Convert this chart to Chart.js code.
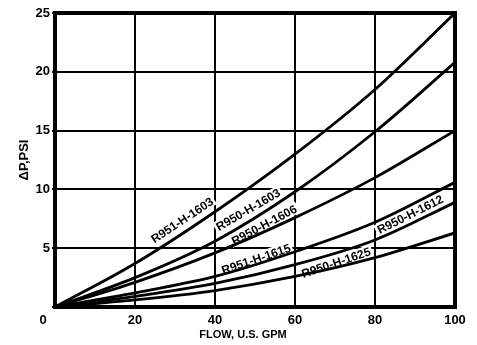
<!DOCTYPE html>
<html>
<head>
<meta charset="utf-8">
<script src="https://cdn.jsdelivr.net/npm/chart.js@4.4.0/dist/chart.umd.min.js"></script>
<style>
  html, body { margin: 0; padding: 0; background: #fff; }
  #wrap { width: 477px; height: 345px; position: relative; }
</style>
</head>
<body>
<div id="wrap"><canvas id="chart"></canvas></div>
<script>
// flow (U.S. GPM) vs pressure drop (PSI)
const flow = [0, 20, 40, 60, 80, 100];
const r951h1603 = [0, 3.7, 8.1, 13.0, 18.5, 25.0];
const r950h1603 = [0, 2.5, 5.6, 9.8, 14.9, 20.8];
const r950h1606 = [0, 2.1, 4.6, 7.6, 11.0, 15.0];
const r951h1615 = [0, 1.2, 2.6, 4.7, 7.2, 10.6];
const r950h1612 = [0, 0.9, 2.0, 3.6, 5.7, 8.9];
const r950h1625 = [0, 0.6, 1.4, 2.6, 4.2, 6.3];
const seriesNames = ['R951-H-1603', 'R950-H-1603', 'R950-H-1606', 'R951-H-1615', 'R950-H-1612', 'R950-H-1625'];
const seriesValues = [r951h1603, r950h1603, r950h1606, r951h1615, r950h1612, r950h1625];

// where the curve names sit (data units) and their slant
const labelX = [31.75, 48.25, 52.25, 50.25, 88.75, 70.25];
const labelY = [7.4, 8.3, 7.0, 4.1, 7.9, 3.8];
const labelAngle = [-33.7, -30, -28, -18.7, -26.6, -18.7];

const FONT = '"Liberation Sans", Arial, Helvetica, sans-serif';

const curveLabels = {
  id: 'curveLabels',
  beforeDatasetsDraw(chart) {
    const { ctx, scales: { x, y } } = chart;
    ctx.save();
    ctx.font = 'bold 12px ' + FONT;
    ctx.textAlign = 'center';
    ctx.textBaseline = 'middle';
    seriesNames.forEach((name, i) => {
      const px = x.getPixelForValue(labelX[i]);
      const py = y.getPixelForValue(labelY[i]);
      const w = ctx.measureText(name).width;
      ctx.save();
      ctx.translate(px, py);
      ctx.rotate(labelAngle[i] * Math.PI / 180);
      ctx.fillStyle = '#fff';
      ctx.fillRect(-w / 2 - 2, -6, w + 4, 12);
      ctx.fillStyle = '#000';
      ctx.fillText(name, 0, 1);
      ctx.restore();
    });
    ctx.restore();
  },
  afterDraw(chart) {
    const { ctx, chartArea: a } = chart;
    ctx.save();
    // heavy frame round the plot
    ctx.strokeStyle = '#000';
    ctx.lineWidth = 4;
    ctx.strokeRect(a.left, a.top, a.right - a.left, a.bottom - a.top);
    // shared origin label and x title
    ctx.fillStyle = '#000';
    ctx.textAlign = 'center';
    ctx.textBaseline = 'middle';
    ctx.font = 'bold 13px ' + FONT;
    ctx.fillText('0', a.left - 12, a.bottom + 13);
    ctx.font = 'bold 11px ' + FONT;
    ctx.fillText('FLOW, U.S. GPM', 243, 335);
    ctx.restore();
  }
};

const datasets = seriesValues.map((vals, i) => ({
  label: seriesNames[i],
  data: flow.map((f, j) => ({ x: f, y: vals[j] })),
  borderColor: '#000',
  borderWidth: 2.8,
  pointRadius: 0,
  fill: false,
  cubicInterpolationMode: 'monotone'
}));

new Chart(document.getElementById('chart'), {
  type: 'line',
  data: { datasets },
  options: {
    responsive: true,
    maintainAspectRatio: false,
    animation: false,
    layout: { padding: { top: 13, right: 22, left: 0, bottom: 0 } },
    plugins: { legend: { display: false }, tooltip: { enabled: false } },
    scales: {
      x: {
        type: 'linear',
        min: 0, max: 100,
        afterFit(scale) { scale.height = 38; },
        grid: { color: '#000', lineWidth: 2, drawTicks: false },
        border: { display: false },
        ticks: {
          stepSize: 20,
          padding: 6,
          color: '#000',
          font: { family: FONT, size: 13, weight: 'bold' },
          callback: v => v === 0 ? '' : v
        }
      },
      y: {
        min: 0, max: 25,
        afterFit(scale) { scale.width = 55; },
        grid: { color: '#000', lineWidth: 2, tickLength: 3 },
        border: { display: false },
        ticks: {
          stepSize: 5,
          padding: 2,
          color: '#000',
          font: { family: FONT, size: 13, weight: 'bold' },
          callback: v => v === 0 ? '' : v
        },
        title: {
          display: true,
          text: 'ΔP,PSI',
          color: '#000',
          font: { family: FONT, size: 13, weight: 'bold' },
          padding: { top: 17 }
        }
      }
    }
  },
  plugins: [curveLabels]
});
</script>
</body>
</html>
